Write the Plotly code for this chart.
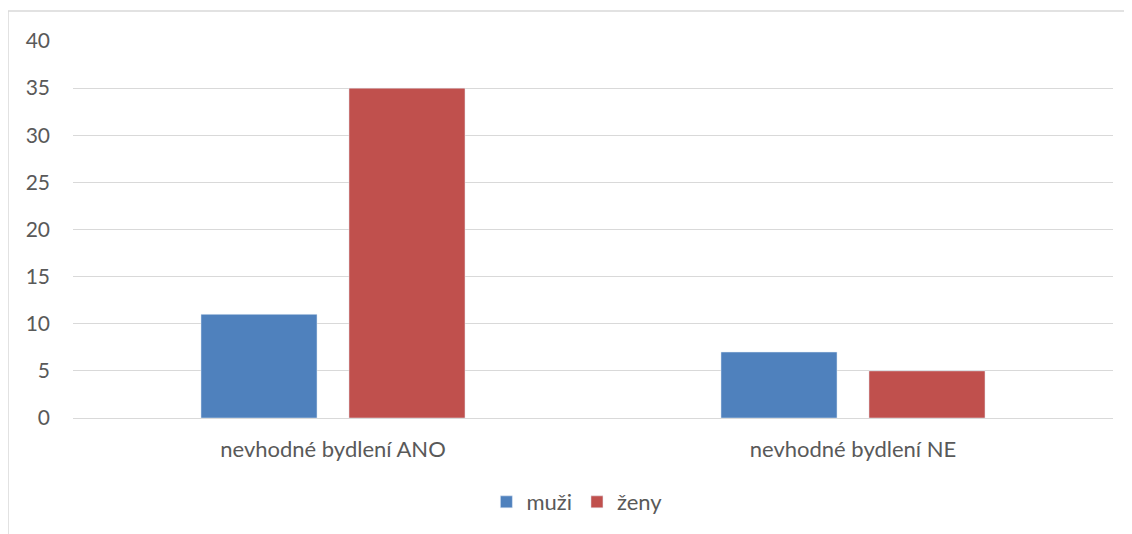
import plotly.graph_objects as go

categories = ["nevhodné bydlení ANO", "nevhodné bydlení NE"]
muzi = [11, 7]
zeny = [35, 5]
y_ticks = [0, 5, 10, 15, 20, 25, 30, 35, 40]

fig = go.Figure()
fig.add_trace(go.Bar(x=categories, y=muzi, name="muži", marker_color="#4F81BD"))
fig.add_trace(go.Bar(x=categories, y=zeny, name="ženy", marker_color="#C0504D"))

font = dict(family="Lato, sans-serif", size=21, color="#595959")

fig.update_layout(
    width=1132, height=534,
    margin=dict(l=65, r=27, t=33, b=124, autoexpand=False),
    paper_bgcolor="white", plot_bgcolor="white",
    barmode="group", bargap=0.4308, bargroupgap=0.216,
    font=font,
    showlegend=True,
    legend=dict(orientation="h", x=0.4845, xanchor="center", y=-0.223, yanchor="middle",
                font=dict(size=22, color="#595959"), itemwidth=30, traceorder="normal"),
    xaxis=dict(showgrid=False, showline=False, ticks="", ticklabelstandoff=16,
               tickfont=dict(size=22)),
    yaxis=dict(range=[0, 40], tickvals=y_ticks, showgrid=True, gridcolor="#D9D9D9",
               gridwidth=1, zeroline=True, zerolinecolor="#D9D9D9", zerolinewidth=1,
               showline=False, ticks="", ticklabelstandoff=22),
    shapes=[dict(type="rect", xref="paper", yref="paper",
                 x0=-0.0625, x1=2, y0=-2, y1=1.0796,
                 line=dict(color="#D9D9D9", width=1.5), fillcolor="rgba(0,0,0,0)", layer="below")],
)

fig.write_html("out.html")
